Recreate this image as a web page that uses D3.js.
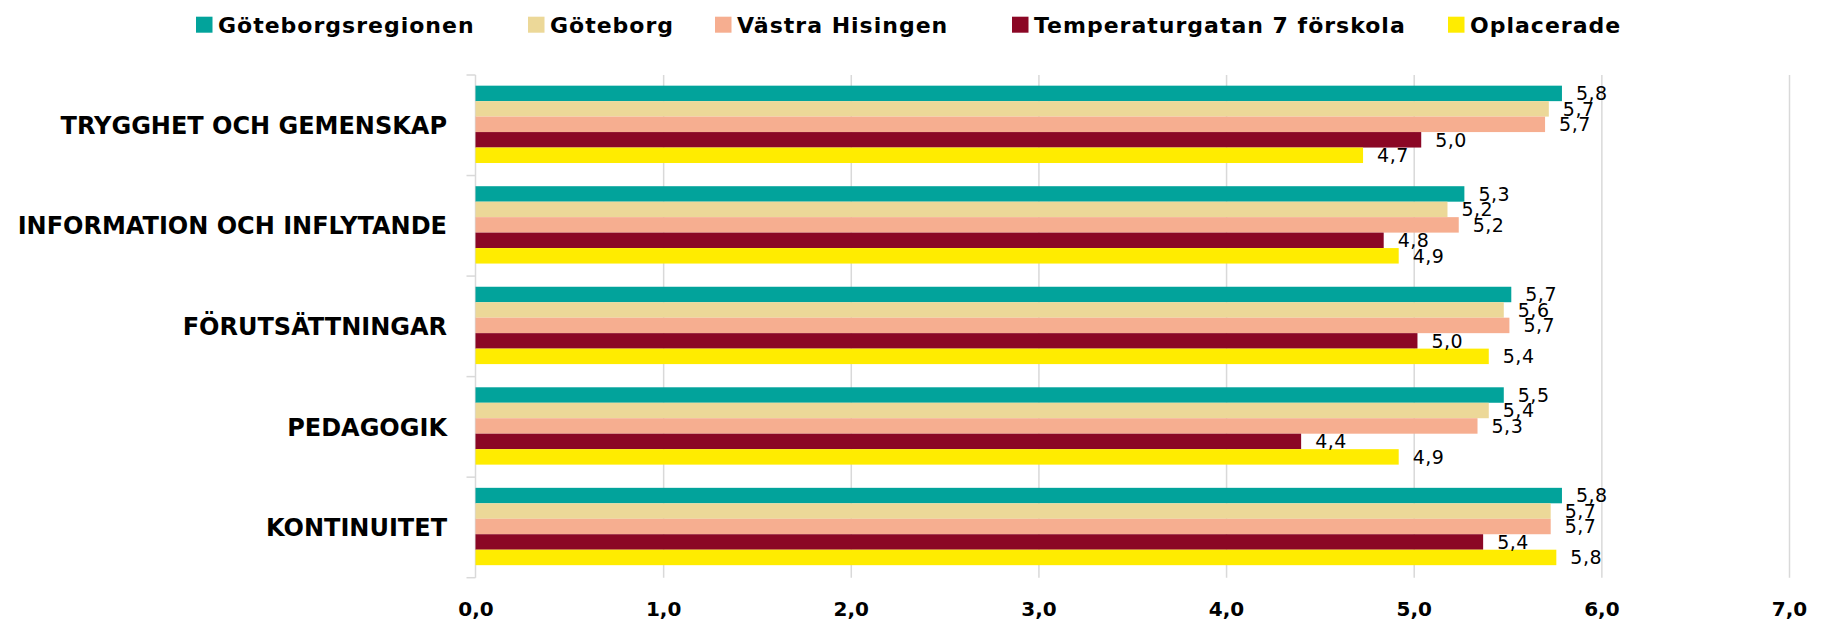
<!DOCTYPE html>
<html>
<head>
<meta charset="utf-8">
<script src="https://cdn.jsdelivr.net/npm/d3@7"></script>
<style>
  body { margin: 0; background: #fff; }
  text { fill: #000; }
</style>
</head>
<body>
<div id="dataviz-container"></div>
<script>
// categories (top to bottom) and series
var categories = ['TRYGGHET OCH GEMENSKAP', 'INFORMATION OCH INFLYTANDE', 'FÖRUTSÄTTNINGAR', 'PEDAGOGIK', 'KONTINUITET'];
var seriesNames = ['Göteborgsregionen', 'Göteborg', 'Västra Hisingen', 'Temperaturgatan 7 förskola', 'Oplacerade'];
var seriesColors = ['#02A39B', '#ECD898', '#F6AE90', '#8B0725', '#FFEC00'];

// bar lengths as drawn
var goteborgsregionen = [5.79, 5.27, 5.52, 5.48, 5.79];
var goteborg = [5.72, 5.18, 5.48, 5.40, 5.73];
var vastraHisingen = [5.70, 5.24, 5.51, 5.34, 5.73];
var temperaturgatan = [5.04, 4.84, 5.02, 4.40, 5.37];
var oplacerade = [4.73, 4.92, 5.40, 4.92, 5.76];

// data labels as printed
var goteborgsregionenLabels = [5.8, 5.3, 5.7, 5.5, 5.8];
var goteborgLabels = [5.7, 5.2, 5.6, 5.4, 5.7];
var vastraHisingenLabels = [5.7, 5.2, 5.7, 5.3, 5.7];
var temperaturgatanLabels = [5.0, 4.8, 5.0, 4.4, 5.4];
var oplaceradeLabels = [4.7, 4.9, 5.4, 4.9, 5.8];

var xTicks = [0, 1, 2, 3, 4, 5, 6, 7];

var seriesValues = [goteborgsregionen, goteborg, vastraHisingen, temperaturgatan, oplacerade];
var seriesLabels = [goteborgsregionenLabels, goteborgLabels, vastraHisingenLabels, temperaturgatanLabels, oplaceradeLabels];

const Width = 1827;
const Height = 620;
const plotLeft = 475.5, plotRight = 1789, plotTop = 75, plotBottom = 577.7;
var legendX = [196, 528, 715, 1012, 1448];

var svg = d3.select('#dataviz-container').append('svg')
  .attr('width', Width).attr('height', Height);

var x = d3.scaleLinear().domain([0, 7]).range([plotLeft, plotRight]);
var y = d3.scaleBand().domain(categories).range([plotTop, plotBottom]).padding(0);
var ySub = d3.scaleBand().domain(seriesNames).range([0, y.bandwidth()])
  .paddingInner(0).paddingOuter(0.75).align(0.46);

var fmt = function(v) { return d3.format('.1f')(v).replace('.', ','); };

// vertical grid lines
svg.append('g')
  .attr('transform', `translate(0, ${plotBottom})`)
  .call(d3.axisBottom(x).tickValues(xTicks.slice(1)).tickSize(-(plotBottom - plotTop)).tickFormat(''))
  .call(g => g.select('.domain').remove())
  .selectAll('line').attr('stroke', '#D9D9D9').attr('stroke-width', 1.5);

// x tick labels
svg.append('g')
  .attr('transform', `translate(0, ${plotBottom})`)
  .call(d3.axisBottom(x).tickValues(xTicks).tickSize(0).tickFormat(fmt))
  .call(g => g.select('.domain').remove())
  .selectAll('text')
  .attr('y', 31).attr('dy', '0.35em')
  .style('font-family', 'DejaVu Sans').style('font-weight', 'bold').style('font-size', '20px')
  .attr('fill', '#000');

// category axis with boundary ticks
var bounds = categories.map(c => y(c)).concat([y(categories[categories.length - 1]) + y.bandwidth()]);
var yAxis = svg.append('g');
yAxis.append('line')
  .attr('x1', plotLeft).attr('x2', plotLeft).attr('y1', plotTop).attr('y2', plotBottom)
  .attr('stroke', '#D9D9D9').attr('stroke-width', 1.5);
yAxis.selectAll('.tick')
  .data(bounds).enter().append('line')
  .attr('x1', plotLeft - 9).attr('x2', plotLeft).attr('y1', d => d).attr('y2', d => d)
  .attr('stroke', '#D9D9D9').attr('stroke-width', 1.5);

yAxis.selectAll('.cat')
  .data(categories).enter().append('text')
  .attr('x', 447).attr('y', d => y(d) + y.bandwidth() / 2)
  .attr('dy', '0.36em').attr('text-anchor', 'end')
  .style('font-family', 'DejaVu Sans').style('font-weight', 'bold').style('font-size', '24px')
  .text(d => d);

// bars
var rows = [];
categories.forEach((c, i) => {
  seriesNames.forEach((s, j) => {
    rows.push({ cat: c, series: s, value: seriesValues[j][i], label: seriesLabels[j][i], color: seriesColors[j] });
  });
});

svg.append('g').selectAll('rect')
  .data(rows).enter().append('rect')
  .attr('x', x(0))
  .attr('y', d => y(d.cat) + ySub(d.series))
  .attr('width', d => x(d.value) - x(0))
  .attr('height', ySub.bandwidth())
  .attr('fill', d => d.color);

svg.append('g').selectAll('text')
  .data(rows).enter().append('text')
  .attr('x', d => x(d.value) + 14)
  .attr('y', d => y(d.cat) + ySub(d.series) + ySub.bandwidth() / 2)
  .attr('dy', '0.36em')
  .style('font-family', 'DejaVu Sans').style('font-size', '19px')
  .style('letter-spacing', '0.5px')
  .text(d => fmt(d.label));

// legend
var legend = svg.append('g').selectAll('g')
  .data(seriesNames).enter().append('g')
  .attr('transform', (d, i) => `translate(${legendX[i]}, 0)`);
legend.append('rect')
  .attr('x', 0).attr('y', 16.7).attr('width', 16.5).attr('height', 16)
  .attr('fill', (d, i) => seriesColors[i]);
legend.append('text')
  .attr('x', 22).attr('y', 25).attr('dy', '0.36em')
  .style('font-family', 'DejaVu Sans').style('font-weight', 'bold').style('font-size', '22px')
  .style('letter-spacing', '1px')
  .text(d => d);
</script>
</body>
</html>
